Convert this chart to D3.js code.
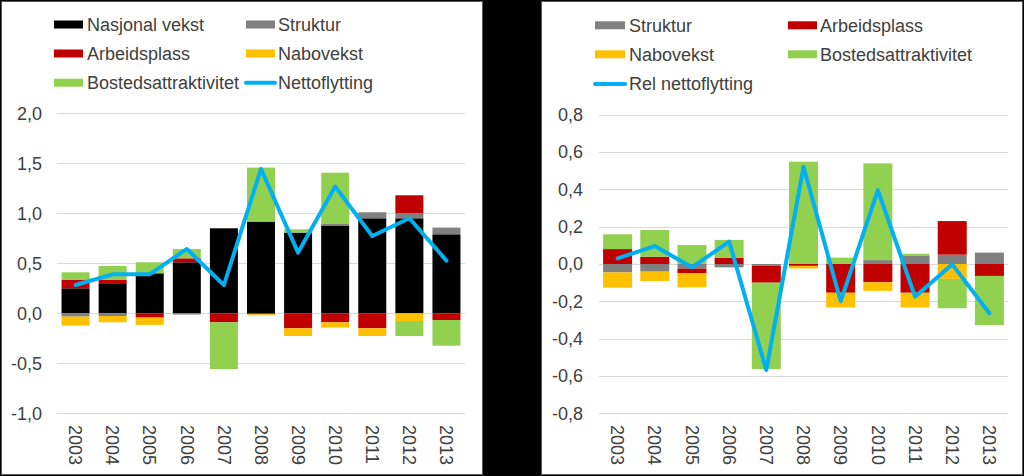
<!DOCTYPE html>
<html><head><meta charset="utf-8">
<script src="https://cdn.jsdelivr.net/npm/d3@7"></script>
<style>
html,body{margin:0;padding:0;background:#000;}
svg{display:block;font-family:"Liberation Sans",Arial,sans-serif;}
</style></head><body>
<svg id="c" width="1024" height="476"></svg>
<script>
const years = ["2003","2004","2005","2006","2007","2008","2009","2010","2011","2012","2013"];

// Left chart
const nasjonalL = [0.25, 0.293, 0.40, 0.51, 0.85, 0.917, 0.807, 0.873, 0.95, 0.95, 0.79];
const strukturL = [-0.033, -0.027, 0, -0.013, 0, 0, 0, 0.02, 0.06, 0.05, 0.067];
const arbeidL   = [0.083, 0.04, -0.043, 0.04, -0.09, -0.01, -0.15, -0.09, -0.15, 0.18, -0.067];
const naboL     = [-0.09, -0.063, -0.073, 0, 0, -0.01, -0.077, -0.053, -0.077, -0.077, 0];
const bostedL   = [0.077, 0.14, 0.11, 0.093, -0.467, 0.54, 0.033, 0.513, 0, -0.15, -0.257];
const nettoL    = [0.283, 0.39, 0.39, 0.643, 0.283, 1.443, 0.607, 1.267, 0.773, 0.95, 0.527];
const ticksL = [-1.0, -0.5, 0.0, 0.5, 1.0, 1.5, 2.0];

// Right chart
const strukturR = [-0.045, -0.041, -0.025, -0.018, -0.01, 0, 0, 0.021, 0.046, 0.05, 0.061];
const arbeidR   = [0.080, 0.039, -0.025, 0.034, -0.09, -0.01, -0.154, -0.098, -0.154, 0.18, -0.064];
const naboR     = [-0.082, -0.05, -0.075, 0, 0, -0.014, -0.079, -0.046, -0.079, -0.08, 0];
const bostedR   = [0.079, 0.143, 0.102, 0.095, -0.463, 0.548, 0.034, 0.518, 0.009, -0.157, -0.263];
const nettoR    = [0.03, 0.096, -0.018, 0.12, -0.568, 0.521, -0.2, 0.396, -0.175, -0.002, -0.264];
const ticksR = [-0.8, -0.6, -0.4, -0.2, 0.0, 0.2, 0.4, 0.6, 0.8];

const C = {black:"#000000", grey:"#808080", red:"#C00000", yellow:"#FFC000", green:"#92D050", blue:"#00B0F0"};
const textCol = "#404040";
const svg = d3.select("#c");
const fmt = v => d3.format(".1f")(v).replace(".", ",").replace("\u2212", "-");

function chart(o){
  const g = svg.append("g");
  g.append("rect").attr("x", o.panel[0]+0.5).attr("y", 1.5).attr("width", o.panel[1]-o.panel[0]).attr("height", 473)
    .attr("fill", "#fff").attr("stroke", "#595959").attr("stroke-width", 1);
  const x = d3.scaleBand().domain(years).range(o.xr).paddingInner(o.pad).paddingOuter(o.pad/2);
  const y = d3.scaleLinear().domain(o.yd).range(o.yr);
  // gridlines
  g.selectAll("line.grid").data(o.ticks).join("line")
    .attr("x1", o.xr[0]).attr("x2", o.xr[1])
    .attr("y1", d => Math.round(y(d))+0.5).attr("y2", d => Math.round(y(d))+0.5)
    .attr("stroke", "#D9D9D9").attr("stroke-width", 1);
  // y tick labels
  g.selectAll("text.yt").data(o.ticks).join("text")
    .attr("x", o.labX).attr("y", d => y(d)).attr("dy", "0.35em")
    .attr("text-anchor", "end").attr("font-size", 18).attr("fill", textCol)
    .text(fmt);
  // stacked bars
  const rows = years.map((yr, i) => {
    const r = {year: yr};
    o.series.forEach(s => r[s.name] = s.values[i]);
    return r;
  });
  const stack = d3.stack().keys(o.series.map(s => s.name)).offset(d3.stackOffsetDiverging)(rows);
  stack.forEach((layer, li) => {
    g.append("g").attr("fill", o.series[li].color)
      .selectAll("rect").data(layer).join("rect")
      .attr("x", d => x(d.data.year)).attr("width", x.bandwidth())
      .attr("y", d => y(Math.max(d[0], d[1])))
      .attr("height", d => Math.abs(y(d[0]) - y(d[1])));
  });
  // line
  const line = d3.line().x((d, i) => x(years[i]) + x.bandwidth()/2).y(d => y(d));
  g.append("path").attr("d", line(o.line.values)).attr("fill", "none")
    .attr("stroke", C.blue).attr("stroke-width", 4).attr("stroke-linejoin", "round").attr("stroke-linecap", "round");
  // x labels
  g.selectAll("text.xt").data(years).join("text")
    .attr("transform", d => `translate(${x(d)+x.bandwidth()/2},425) rotate(90)`)
    .attr("dy", "0.35em").attr("font-size", 18).attr("fill", textCol).text(d => d);
  // legend
  o.legend.forEach(it => {
    if (it.line) {
      g.append("line").attr("x1", it.sx).attr("x2", it.sx + it.sw).attr("y1", it.y).attr("y2", it.y)
        .attr("stroke", it.color).attr("stroke-width", 4).attr("stroke-linecap", "round");
    } else {
      g.append("rect").attr("x", it.sx).attr("y", it.y - 4).attr("width", it.sw).attr("height", 8).attr("fill", it.color);
    }
    g.append("text").attr("x", it.tx).attr("y", it.y).attr("dy", "0.35em")
      .attr("font-size", 18).attr("fill", textCol).text(it.name);
  });
}

chart({
  panel: [1, 482], xr: [57, 465], pad: 0.245, yd: [-1, 2], yr: [413.3, 113.3], ticks: ticksL, labX: 42,
  series: [
    {name: "Nasjonal vekst", values: nasjonalL, color: C.black},
    {name: "Struktur", values: strukturL, color: C.grey},
    {name: "Arbeidsplass", values: arbeidL, color: C.red},
    {name: "Nabovekst", values: naboL, color: C.yellow},
    {name: "Bostedsattraktivitet", values: bostedL, color: C.green}
  ],
  line: {name: "Nettoflytting", values: nettoL},
  legend: [
    {name: "Nasjonal vekst", color: C.black, sx: 54, sw: 29, tx: 87, y: 24.5},
    {name: "Struktur", color: C.grey, sx: 246, sw: 29, tx: 278, y: 24.5},
    {name: "Arbeidsplass", color: C.red, sx: 54, sw: 29, tx: 87, y: 53.5},
    {name: "Nabovekst", color: C.yellow, sx: 246, sw: 29, tx: 278, y: 53.5},
    {name: "Bostedsattraktivitet", color: C.green, sx: 54, sw: 29, tx: 87, y: 82.7},
    {name: "Nettoflytting", color: C.blue, sx: 246, sw: 29, tx: 278, y: 82.7, line: true}
  ]
});

chart({
  panel: [541, 1022], xr: [599, 1008], pad: 0.22, yd: [-0.8, 0.8], yr: [413.3, 114.7], ticks: ticksR, labX: 583,
  series: [
    {name: "Struktur", values: strukturR, color: C.grey},
    {name: "Arbeidsplass", values: arbeidR, color: C.red},
    {name: "Nabovekst", values: naboR, color: C.yellow},
    {name: "Bostedsattraktivitet", values: bostedR, color: C.green}
  ],
  line: {name: "Rel nettoflytting", values: nettoR},
  legend: [
    {name: "Struktur", color: C.grey, sx: 595, sw: 30, tx: 629, y: 25.3},
    {name: "Arbeidsplass", color: C.red, sx: 788, sw: 29, tx: 820, y: 25.3},
    {name: "Nabovekst", color: C.yellow, sx: 595, sw: 30, tx: 629, y: 54.3},
    {name: "Bostedsattraktivitet", color: C.green, sx: 788, sw: 29, tx: 820, y: 54.3},
    {name: "Rel nettoflytting", color: C.blue, sx: 595, sw: 30, tx: 629, y: 84, line: true}
  ]
});
</script>
</body></html>
